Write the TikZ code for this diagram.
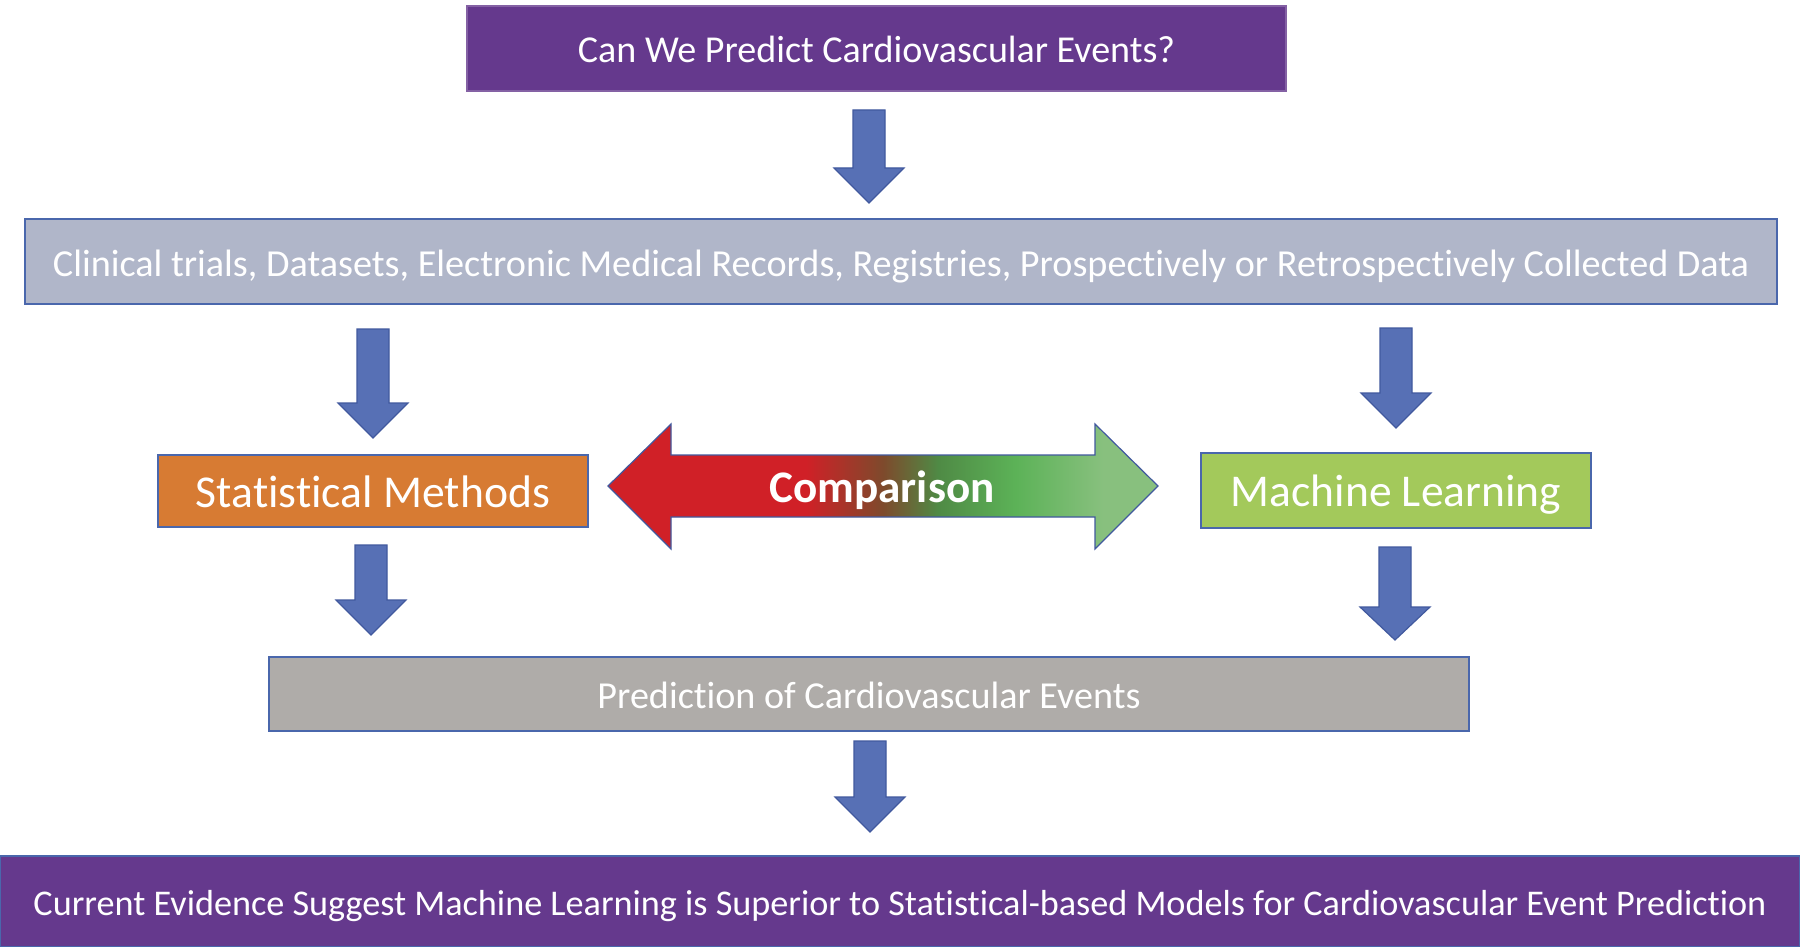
\documentclass[tikz,border=0pt]{standalone}
\usepackage{fontspec}
\setmainfont[Ligatures={NoCommon}]{Carlito}
\usetikzlibrary{calc}
\definecolor{cpurple}{HTML}{65398D}
\definecolor{cdata}{HTML}{B0B6C9}
\definecolor{cborder}{HTML}{4A67AC}
\definecolor{carrow}{HTML}{5770B5}
\definecolor{carrowb}{HTML}{41599E}
\definecolor{corange}{HTML}{D77B33}
\definecolor{cgreenbox}{HTML}{A3C95B}
\definecolor{cgray}{HTML}{AFACA9}
\definecolor{cred}{HTML}{D02027}
\definecolor{cbrown}{HTML}{7E4A2C}
\definecolor{cdgreen}{HTML}{4F8A45}
\definecolor{cgreen}{HTML}{5CB257}
\definecolor{clgreen}{HTML}{88C07E}
\pgfdeclarehorizontalshading{compshade}{100bp}{color(0bp)=(cred); color(25bp)=(cred); color(43bp)=(cred); color(50bp)=(cbrown); color(55bp)=(cdgreen); color(62bp)=(cgreen); color(70bp)=(clgreen); color(75bp)=(clgreen); color(100bp)=(clgreen)}
\newcommand{\fitw}[2]{\resizebox{#1}{!}{#2}}
\newcommand{\darrow}[5]{%
  \coordinate (#1s) at (#2,#3);
  \coordinate (#1e) at (#2,#5);
  \draw[barrow] (#2-16,#3) -- (#2+16,#3) -- (#2+16,#4) -- (#2+35,#4) -- (#1e) -- (#2-35,#4) -- (#2-16,#4) -- cycle;}
\begin{document}
\begin{tikzpicture}[x=0.5pt,y=-0.5pt,
  box/.style={draw=cborder, line width=0.9pt, inner sep=0pt},
  txt/.style={inner sep=0pt, text=white},
  barrow/.style={fill=carrow, draw=carrowb, line width=0.6pt, line join=miter}]
\useasboundingbox (0,0) rectangle (1800,947);
\fill[white] (0,0) rectangle (1800,947);
% boxes
\node[box, fill=cpurple, draw=cpurple!80!white, minimum width=409.5pt, minimum height=42.5pt] (question) at (876.5,48.5) {};
\node[txt, yshift=-0.6pt] (questiont) at (question) {\fitw{298.5pt}{Can We Predict Cardiovascular Events?}};
\node[box, fill=cdata, minimum width=876pt, minimum height=42.5pt] (data) at (901,261.5) {};
\node[txt, yshift=-2.3pt] (datat) at (data) {\fitw{848pt}{Clinical trials, Datasets, Electronic Medical Records, Registries, Prospectively or Retrospectively Collected Data}};
\node[box, fill=corange, minimum width=215pt, minimum height=36pt] (stat) at (373,491) {};
\node[txt, yshift=-0.6pt] (statt) at (stat) {\fitw{177pt}{Statistical Methods}};
\node[box, fill=cgreenbox, minimum width=195pt, minimum height=37.5pt] (ml) at (1396,490.5) {};
\node[txt, yshift=-2.3pt] (mlt) at (ml) {\fitw{165pt}{Machine Learning}};
\node[box, fill=cgray, minimum width=600pt, minimum height=37pt] (pred) at (869,694) {};
\node[txt, yshift=-0.6pt] (predt) at (pred) {\fitw{271.5pt}{Prediction of Cardiovascular Events}};
\node[box, fill=cpurple, draw=cborder, minimum width=900pt, minimum height=45.5pt] (concl) at (900,901.5) {};
\node[txt, yshift=-2.3pt] (conclt) at (concl) {\fitw{866.5pt}{Current Evidence Suggest Machine Learning is Superior to Statistical-based Models for Cardiovascular Event Prediction}};
% down arrows
\darrow{a1}{869}{110}{168}{203}
\darrow{l1}{373}{329}{403}{438}
\darrow{r1}{1396}{328}{393}{428}
\darrow{l2}{371}{545}{600}{635}
\darrow{r2}{1395}{547}{607}{640}
\darrow{b1}{870}{741}{797}{832}
% comparison arrow
\coordinate (cl) at (608,486);
\coordinate (cr) at (1158,486);
\shade[shading=compshade] (cl) -- (671,424) -- (671,455) -- (1095,455) -- (1095,424) -- (cr) -- (1095,549) -- (1095,517) -- (671,517) -- (671,549) -- cycle;
\draw[carrowb, line width=0.6pt, line join=miter] (cl) -- (671,424) -- (671,455) -- (1095,455) -- (1095,424) -- (cr) -- (1095,549) -- (1095,517) -- (671,517) -- (671,549) -- cycle;
\node[txt, yshift=-1.1pt] (comp) at (882,488) {\fitw{112.5pt}{\bfseries Comparison}};
\end{tikzpicture}
\end{document}
